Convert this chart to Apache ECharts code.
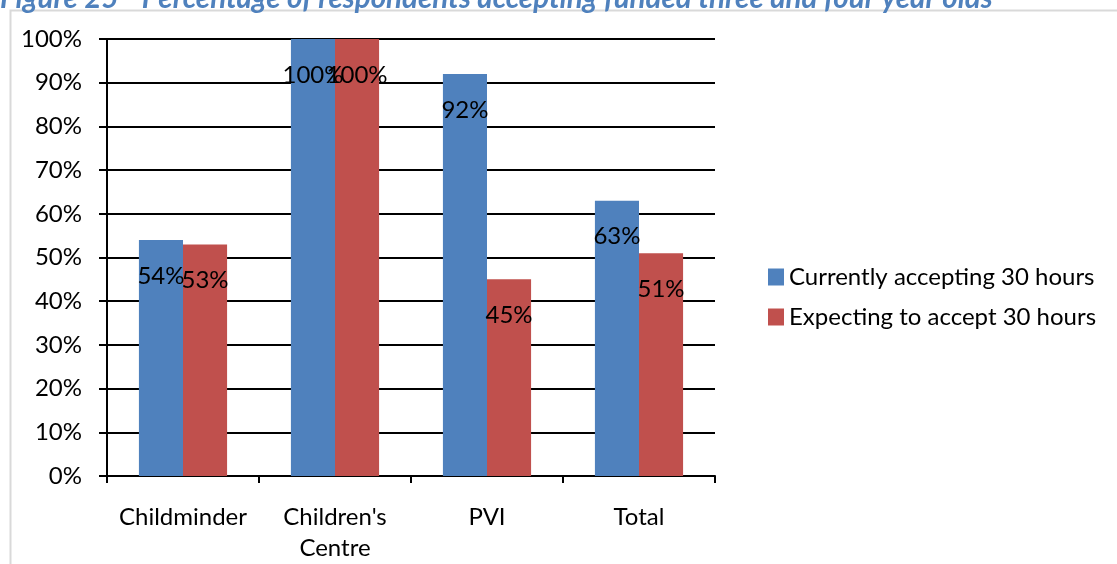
<!DOCTYPE html>
<html>
<head>
<meta charset="utf-8">
<script src="https://cdn.jsdelivr.net/npm/echarts@6/dist/echarts.min.js"></script>
<style>
  html, body { margin: 0; padding: 0; background: #fff; }
  #chart { width: 1117px; height: 564px; }
</style>
</head>
<body>
<div id="chart"></div>
<script>
// Provider types shown along the category axis
const categories = ['Childminder', "Children's\nCentre", 'PVI', 'Total'];
// Share of respondents (%) per provider type
const currentlyAccepting = [54, 100, 92, 63];
const expectingToAccept = [53, 100, 45, 51];
const seriesNames = ['Currently accepting 30 hours', 'Expecting to accept 30 hours'];
const yTicks = [0, 10, 20, 30, 40, 50, 60, 70, 80, 90, 100];

const FONT = 'Lato';
const SIZE = 24;
const chart = echarts.init(document.getElementById('chart'), null, { renderer: 'canvas' });

const labelStyle = {
  show: true,
  position: 'insideTop',
  distance: 24,
  color: '#000',
  fontFamily: FONT,
  fontSize: SIZE,
  formatter: p => p.value + '%'
};

chart.setOption({
  animation: false,
  textStyle: { fontFamily: FONT },
  title: {
    text: 'Figure 25 - Percentage of respondents accepting funded three and four year olds',
    left: 0,
    top: -17,
    padding: 0,
    textStyle: { color: '#4F81BD', fontSize: 29.5, fontStyle: 'italic', fontWeight: 'bold', fontFamily: FONT }
  },
  graphic: [
    {
      type: 'polyline',
      shape: { points: [[10.5, 564], [10.5, 10.5], [1117, 10.5]] },
      style: { stroke: '#d9d9d9', lineWidth: 2, fill: null },
      silent: true
    }
  ],
  grid: { left: 107, right: 402, top: 39, bottom: 86, containLabel: false },
  legend: {
    orient: 'vertical',
    left: 763,
    top: 260,
    itemWidth: 16,
    itemHeight: 17,
    itemGap: 16,
    icon: 'rect',
    textStyle: { fontFamily: FONT, fontSize: SIZE, color: '#000' },
    data: seriesNames
  },
  xAxis: {
    type: 'category',
    data: categories,
    axisLine: { lineStyle: { color: '#000', width: 2 } },
    axisTick: { show: true, length: 7, lineStyle: { color: '#000', width: 2 } },
    axisLabel: { color: '#000', fontSize: SIZE, fontFamily: FONT, margin: 26, lineHeight: 31, interval: 0 }
  },
  yAxis: {
    type: 'value',
    min: yTicks[0],
    max: yTicks[yTicks.length - 1],
    interval: 10,
    axisLine: { show: true, lineStyle: { color: '#000', width: 2 } },
    axisTick: { show: true, length: 8, lineStyle: { color: '#000', width: 2 } },
    splitLine: { show: true, lineStyle: { color: '#000', width: 2 } },
    axisLabel: { color: '#000', fontSize: SIZE, fontFamily: FONT, margin: 25, formatter: v => v + '%' }
  },
  series: [
    {
      name: seriesNames[0],
      type: 'bar',
      data: currentlyAccepting,
      barGap: '0%',
      barCategoryGap: '42%',
      itemStyle: { color: '#4F81BD' },
      label: labelStyle,
      z: 3
    },
    {
      name: seriesNames[1],
      type: 'bar',
      data: expectingToAccept,
      barGap: '0%',
      barCategoryGap: '42%',
      itemStyle: { color: '#C0504D' },
      label: labelStyle,
      z: 3
    }
  ]
});
</script>
</body>
</html>
